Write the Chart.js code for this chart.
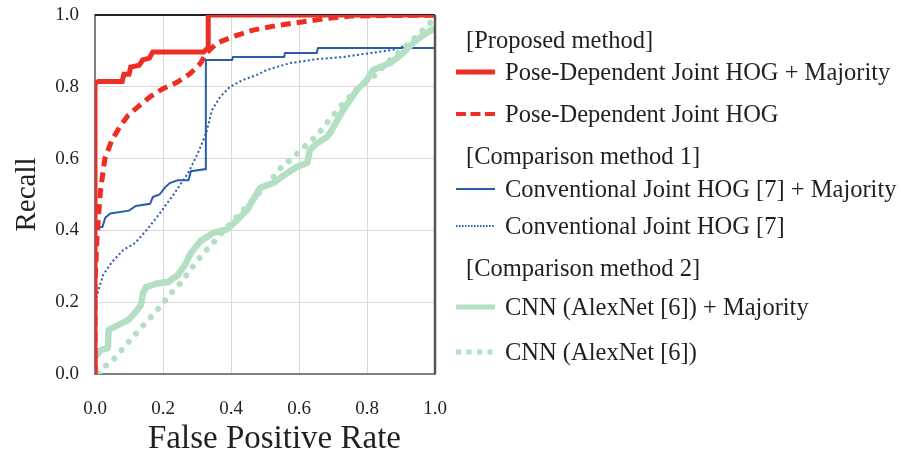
<!DOCTYPE html>
<html>
<head>
<meta charset="utf-8">
<script src="https://cdn.jsdelivr.net/npm/chart.js@4/dist/chart.umd.min.js"></script>
<style>
  body { margin: 0; background: #fff; }
  #wrap { position: relative; width: 901px; height: 451px; }
  #legend { position: absolute; left: 0; top: 0; width: 901px; height: 451px; pointer-events: none;
    font-family: "Liberation Serif", "Times New Roman", serif; color: #231f20; font-size: 24.5px; }
  #legend .t { position: absolute; line-height: 28px; white-space: nowrap; }
  #legend .xt { position: absolute; left: 148px; top: 418px; line-height: 38px; font-size: 33px; white-space: nowrap; }
  #legend svg { position: absolute; left: 0; top: 0; }
</style>
</head>
<body>
<div id="wrap">
  <canvas id="roc" width="901" height="451"></canvas>
  <div id="legend"><div class="xt">False Positive Rate</div></div>
</div>
<script>
// ROC curves as [FPR, Recall] pairs
const poseMajority = [[0,0],[0,0.81],[0.01,0.815],[0.08,0.815],[0.085,0.835],[0.10,0.835],[0.105,0.855],
  [0.13,0.86],[0.14,0.875],[0.16,0.88],[0.17,0.897],[0.32,0.897],[0.333,0.91],[0.333,1.0],[1.0,1.0]];

const pose = [[0,0],[0,0.25],[0.006,0.38],[0.012,0.46],[0.016,0.51],[0.029,0.6],[0.05,0.652],[0.074,0.69],
  [0.097,0.72],[0.126,0.744],[0.162,0.772],[0.2,0.795],[0.24,0.812],[0.279,0.836],[0.309,0.864],[0.329,0.895],
  [0.359,0.922],[0.406,0.94],[0.465,0.958],[0.53,0.97],[0.603,0.98],[0.68,0.99],[0.75,0.997],[1,1]];

const convMajority = [[0,0],[0,0.407],[0.022,0.41],[0.03,0.435],[0.045,0.447],[0.1,0.455],[0.12,0.468],
  [0.162,0.474],[0.17,0.493],[0.19,0.5],[0.206,0.52],[0.22,0.532],[0.244,0.54],[0.275,0.54],[0.282,0.565],
  [0.326,0.571],[0.326,0.875],[0.403,0.875],[0.406,0.883],[0.556,0.883],[0.559,0.894],[0.652,0.894],
  [0.656,0.908],[1,0.908]];

const conv = [[0,0],[0,0.2],[0.006,0.22],[0.024,0.276],[0.05,0.312],[0.083,0.345],[0.118,0.365],[0.152,0.401],
  [0.191,0.448],[0.234,0.504],[0.274,0.56],[0.303,0.616],[0.327,0.671],[0.344,0.735],[0.368,0.772],[0.397,0.8],
  [0.435,0.819],[0.476,0.833],[0.505,0.847],[0.574,0.866],[0.652,0.877],[0.73,0.883],[0.876,0.903],
  [0.947,0.925],[0.994,0.958],[1,0.96]];

const cnnMajority = [[0,0],[0,0.047],[0.018,0.067],[0.038,0.072],[0.04,0.123],[0.068,0.136],[0.097,0.15],
  [0.12,0.173],[0.135,0.192],[0.141,0.225],[0.15,0.242],[0.185,0.253],[0.215,0.256],[0.244,0.276],
  [0.265,0.304],[0.282,0.337],[0.31,0.37],[0.347,0.393],[0.388,0.403],[0.418,0.429],[0.447,0.457],
  [0.465,0.485],[0.485,0.518],[0.524,0.532],[0.553,0.552],[0.594,0.577],[0.624,0.588],[0.632,0.624],
  [0.653,0.643],[0.682,0.66],[0.691,0.671],[0.73,0.735],[0.77,0.791],[0.8,0.819],[0.818,0.847],
  [0.868,0.866],[0.906,0.894],[0.935,0.922],[0.965,0.944],[1.0,0.964]];

const cnn = [[0.012,0],[0.024,0.017],[0.05,0.036],[0.071,0.058],[0.091,0.081],[0.112,0.103],[0.132,0.125],
  [0.156,0.15],[0.176,0.17],[0.197,0.195],[0.218,0.217],[0.238,0.242],[0.259,0.259],[0.276,0.287],
  [0.297,0.309],[0.318,0.337],[0.338,0.354],[0.359,0.379],[0.45,0.47],[0.532,0.557],[0.55,0.579],
  [0.579,0.599],[0.6,0.619],[0.624,0.641],[0.647,0.66],[0.668,0.682],[0.688,0.706],[0.726,0.749],
  [0.774,0.797],[0.824,0.833],[0.868,0.875],[0.918,0.916],[0.956,0.95],[0.985,0.978],[1.0,0.99]];

const axisTicks = [0, 0.2, 0.4, 0.6, 0.8, 1.0];

const RED = '#ee2e24', BLUE = '#2a5caa', GREEN = '#b3dfc3', TEXT = '#231f20';
const FONT = '"Liberation Serif", "Times New Roman", serif';

const toPts = arr => arr.map(p => ({ x: p[0], y: p[1] }));

// frame: black top under the curves, dark right edge on top (left/bottom come from the axes)
const framePlugin = {
  id: 'frame',
  beforeDatasetsDraw(chart) {
    const a = chart.chartArea, ctx = chart.ctx;
    ctx.save();
    ctx.lineWidth = 2;
    ctx.strokeStyle = '#222';
    ctx.beginPath(); ctx.moveTo(a.left, a.top); ctx.lineTo(a.right, a.top); ctx.stroke();
    ctx.restore();
  },
  afterDraw(chart) {
    const a = chart.chartArea, ctx = chart.ctx;
    ctx.save();
    ctx.strokeStyle = '#555';
    ctx.lineWidth = 2.5;
    ctx.beginPath(); ctx.moveTo(a.right, a.top); ctx.lineTo(a.right, a.bottom); ctx.stroke();
    ctx.restore();
  }
};

const line = (data, color, width, extra) => Object.assign({
  data: toPts(data), borderColor: color, borderWidth: width, showLine: true,
  pointRadius: 0, tension: 0, fill: false
}, extra || {});

new Chart(document.getElementById('roc'), {
  type: 'scatter',
  data: {
    datasets: [
      line(poseMajority, RED, 5),
      line(pose, RED, 5, { borderDash: [10, 6] }),
      line(cnnMajority, GREEN, 6.5, { borderJoinStyle: 'round' }),
      line(cnn, GREEN, 6, { borderDash: [0.01, 11], borderCapStyle: 'round' }),
      line(convMajority, BLUE, 2),
      line(conv, BLUE, 2, { borderDash: [2, 2.5] })
    ]
  },
  options: {
    responsive: false,
    animation: false,
    devicePixelRatio: 1,
    layout: { padding: { top: 15, right: 466, left: 0, bottom: 0 } },
    plugins: { legend: { display: false }, tooltip: { enabled: false } },
    scales: {
      x: {
        type: 'linear', min: 0, max: 1,
        afterBuildTicks: s => { s.ticks = axisTicks.map(v => ({ value: v })); },
        afterFit: s => { s.height = 77; },
        grid: { color: '#d9d9d9', lineWidth: 1, drawTicks: false },
        border: { color: '#808080', width: 2 },
        ticks: { padding: 24, color: TEXT, font: { family: FONT, size: 19 }, callback: v => v.toFixed(1), maxRotation: 0 }
      },
      y: {
        type: 'linear', min: 0, max: 1,
        afterBuildTicks: s => { s.ticks = axisTicks.map(v => ({ value: v })); },
        afterFit: s => { s.width = 95; s.paddingTop = 0; },
        grid: { color: '#d9d9d9', lineWidth: 1, drawTicks: false },
        border: { color: '#808080', width: 2 },
        ticks: { padding: 16, color: TEXT, font: { family: FONT, size: 19 }, callback: v => v.toFixed(1) },
        title: { display: true, text: 'Recall', color: TEXT, font: { family: FONT, size: 29 }, padding: { top: 10, bottom: 0 } }
      }
    }
  },
  plugins: [framePlugin]
});

// legend, laid out like the original figure
const legendRows = [
  { kind: 'head', text: '[Proposed method]', y: 40 },
  { kind: 'item', text: 'Pose-Dependent Joint HOG + Majority', y: 72, color: RED, w: 5, dash: '' },
  { kind: 'item', text: 'Pose-Dependent Joint HOG', y: 114, color: RED, w: 4, dash: '10 4.5' },
  { kind: 'head', text: '[Comparison method 1]', y: 156 },
  { kind: 'item', text: 'Conventional Joint HOG [7] + Majority', y: 189, color: BLUE, w: 2, dash: '' },
  { kind: 'item', text: 'Conventional Joint HOG [7]', y: 226, color: BLUE, w: 2, dash: '1.5 1.5' },
  { kind: 'head', text: '[Comparison method 2]', y: 268 },
  { kind: 'item', text: 'CNN (AlexNet [6]) + Majority', y: 307, color: GREEN, w: 5, dash: '' },
  { kind: 'item', text: 'CNN (AlexNet [6])', y: 352, color: GREEN, w: 5, dash: '5 5.5' }
];
const legend = document.getElementById('legend');
let svg = '<svg width="901" height="451" xmlns="http://www.w3.org/2000/svg">';
legendRows.forEach(r => {
  const d = document.createElement('div');
  d.className = 't';
  d.textContent = r.text;
  d.style.left = (r.kind === 'head' ? 466 : 505) + 'px';
  d.style.top = (r.y - 14) + 'px';
  legend.appendChild(d);
  if (r.kind === 'item') {
    svg += '<line x1="456" x2="495" y1="' + r.y + '" y2="' + r.y + '" stroke="' + r.color +
      '" stroke-width="' + r.w + '"' + (r.dash ? ' stroke-dasharray="' + r.dash + '"' : '') + '/>';
  }
});
svg += '</svg>';
legend.insertAdjacentHTML('afterbegin', svg);
</script>
</body>
</html>
